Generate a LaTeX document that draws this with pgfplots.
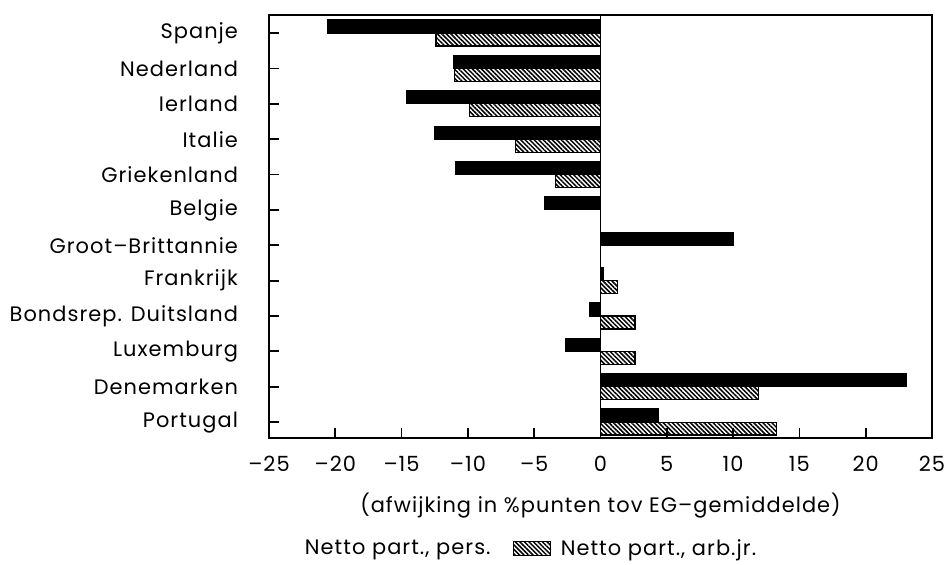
\documentclass[border=0pt]{standalone}
\usepackage{fontspec}
\setmainfont{Poppins}[LetterSpace=5]
\usepackage{pgfplots}
\pgfplotsset{compat=1.18}
\usetikzlibrary{patterns.meta}
\tikzset{hatchpat/.style={pattern={Lines[angle=-45,distance=1.6bp,line width=0.75bp]},pattern color=black}}
\begin{document}
\begin{tikzpicture}
\useasboundingbox (-134.5bp,-63.5bp) rectangle (340.5bp,219bp);
\begin{axis}[
  xbar, bar width=0.367,
  at={(0,0)}, anchor=south west,
  scale only axis, width=331.5bp, height=211.5bp,
  font=\fontsize{10.5}{12}\selectfont,
  xmin=-25, xmax=25, ymin=-0.45, ymax=11.51,
  axis line style={line width=1.2bp},
  tick pos=left,
  xtick align=inside, ytick align=inside,
  major tick length=4.8bp,
  tick style={line width=0.9bp, black},
  xtick={-25,-20,...,25},
  xticklabels={\textendash25,\textendash20,\textendash15,\textendash10,\textendash5,0,5,10,15,20,25},
  xticklabel style={yshift=-5.5bp},
  ytick={0,...,11},
  yticklabels={Portugal,Denemarken,Luxemburg,Bondsrep. Duitsland,Frankrijk,Groot\textendash Brittannie,Belgie,Griekenland,Italie,Ierland,Nederland,Spanje},
  yticklabel style={xshift=-12bp},
  extra x ticks={0}, extra x tick labels={},
  extra x tick style={grid=major, major grid style={black, line width=0.8bp}, major tick length=0pt},
  xlabel={(afwijking in \%punten tov EG\textendash gemiddelde)},
  xlabel style={at={(axis description cs:0.5,-0.16)}, anchor=center},
  legend columns=2,
  legend style={draw=none, fill=none, at={(axis description cs:0.39,-0.262)}, anchor=center,
    font=\fontsize{10.5}{12}\selectfont,
    /tikz/every even column/.append style={column sep=9bp},
    /tikz/every odd column/.append style={column sep=3bp}},
]
\addplot[forget plot, fill=black, draw=black, line width=0.6bp, bar shift=0.184] coordinates {
(-20.6,11) (-11.1,10) (-14.6,9) (-12.5,8) (-10.9,7) (-4.2,6) (10.0,5) (0.2,4) (-0.8,3) (-2.6,2) (23.1,1) (4.35,0)};
\addplot[forget plot, hatchpat, draw=black, line width=0.6bp, bar shift=-0.184] coordinates {
(-12.4,11) (-11.0,10) (-9.9,9) (-6.4,8) (-3.4,7) (0,6) (0,5) (1.3,4) (2.6,3) (2.6,2) (11.9,1) (13.3,0)};
\addlegendimage{empty legend}
\addlegendentry{Netto part., pers.}
\addlegendimage{legend image code/.code={\draw[hatchpat, draw=black, line width=0.6bp] (0bp,-3.5bp) rectangle (18.5bp,3.5bp);}}
\addlegendentry{Netto part., arb.jr.}
\end{axis}
\end{tikzpicture}
\end{document}
